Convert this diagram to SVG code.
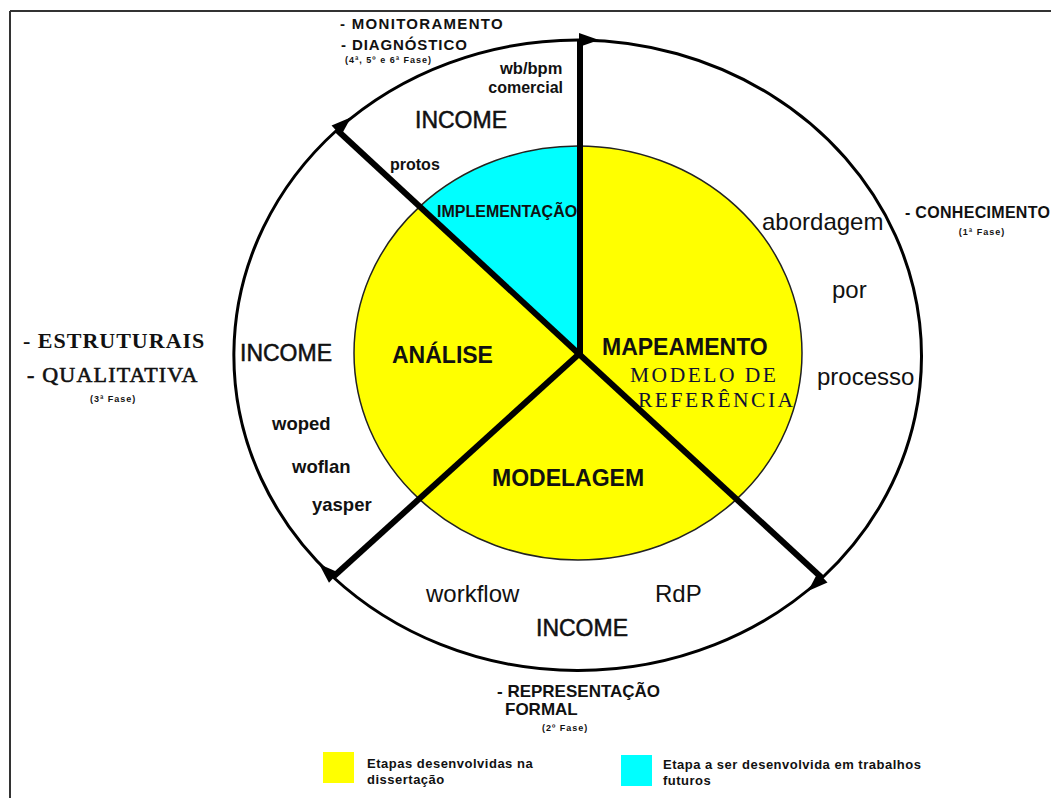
<svg xmlns="http://www.w3.org/2000/svg" width="1051" height="798" viewBox="0 0 1051 798">
  <style>
    .sans { font-family: "Liberation Sans", Arial, sans-serif; fill: #111; }
    .serif { font-family: "Liberation Serif", "Times New Roman", serif; fill: #111; }
    .b { font-weight: bold; }
    .big { font-size: 23px; stroke: #111; stroke-width: 0.5px; }
    .tool { font-size: 24px; }
    .stage { font-size: 23px; font-weight: bold; }
    .phase { font-size: 16px; font-weight: bold; }
    .small { font-size: 9px; font-weight: bold; letter-spacing: 1px; }
    .legend { font-size: 13px; font-weight: bold; letter-spacing: 0.5px; }
    .ref { font-size: 21.5px; letter-spacing: 2.5px; fill: #111133; }
    .spoke { stroke: #000; stroke-width: 6; stroke-linecap: butt; fill: none; }
    .ring { stroke: #000; stroke-width: 3; fill: none; marker-end: url(#arrow); }
  </style>
  <defs>
    <marker id="arrow" markerUnits="userSpaceOnUse" markerWidth="24" markerHeight="18" refX="1" refY="0" viewBox="0 -9 24 18" orient="auto" overflow="visible">
      <path d="M0,-7 L20,0 L0,7 Z" fill="#000"/>
    </marker>
  </defs>

  <rect x="0" y="0" width="1051" height="798" fill="#fff"/>

  <g id="frame" stroke="#333" stroke-width="2" fill="none">
    <line x1="10" y1="11" x2="1051" y2="11"/>
    <line x1="10" y1="11" x2="10" y2="798"/>
  </g>

  <g id="core">
    <ellipse cx="578" cy="353" rx="224" ry="207" fill="#ffff00"/>
    <path id="implementacao-sector" d="M579,354 L420,207 A224,207 0 0 1 580,146 Z" fill="#00ffff"/>
    <ellipse cx="578" cy="353" rx="224" ry="207" fill="none" stroke="#222" stroke-width="1.5"/>
  </g>

  <g id="connectors">
    <line class="spoke" x1="580" y1="357" x2="580" y2="40"/>
    <line class="spoke" x1="579" y1="354" x2="337" y2="130"/>
    <line class="spoke" x1="579" y1="354" x2="822" y2="578"/>
    <line class="spoke" x1="579" y1="354" x2="333" y2="577"/>
    <path class="ring" d="M333,577 A345,316 0 0 1 337,130"/>
    <path class="ring" d="M337,130 A345,316 0 0 1 580,40"/>
    <path class="ring" d="M580,40 A345,316 0 0 1 822,578"/>
    <path class="ring" d="M822,578 A345,316 0 0 1 333,577"/>
  </g>

  <g id="implementacao">
    <text class="sans b" x="437" y="217" font-size="16">IMPLEMENTAÇÃO</text>
  </g>
  <g id="mapeamento">
    <text class="sans stage" x="602" y="355">MAPEAMENTO</text>
    <text class="serif ref" x="630" y="382">MODELO DE</text>
    <text class="serif ref" x="638" y="407">REFERÊNCIA</text>
  </g>
  <g id="analise">
    <text class="sans stage" x="392" y="363">ANÁLISE</text>
  </g>
  <g id="modelagem">
    <text class="sans stage" x="492" y="486">MODELAGEM</text>
  </g>

  <g id="ring-top">
    <text class="sans big" x="415" y="128">INCOME</text>
    <text class="sans b" x="500" y="74" font-size="16.5">wb/bpm</text>
    <text class="sans b" x="563" y="93" font-size="16" text-anchor="end">comercial</text>
    <text class="sans b" x="390" y="170" font-size="16">protos</text>
  </g>
  <g id="ring-right">
    <text class="sans tool" x="762" y="230">abordagem</text>
    <text class="sans tool" x="832" y="298">por</text>
    <text class="sans tool" x="817" y="385">processo</text>
  </g>
  <g id="ring-bottom">
    <text class="sans tool" x="426" y="602" font-size="23">workflow</text>
    <text class="sans tool" x="655" y="602">RdP</text>
    <text class="sans big" x="536" y="636">INCOME</text>
  </g>
  <g id="ring-left">
    <text class="sans big" x="240" y="361">INCOME</text>
    <text class="sans b" x="272" y="430" font-size="18.5">woped</text>
    <text class="sans b" x="292" y="473" font-size="18.5">woflan</text>
    <text class="sans b" x="312" y="511" font-size="18.5">yasper</text>
  </g>

  <g id="phase-top">
    <text class="sans b" x="340" y="29" font-size="15" letter-spacing="1.3">- MONITORAMENTO</text>
    <text class="sans b" x="341" y="50" font-size="15" letter-spacing="0.9">- DIAGNÓSTICO</text>
    <text class="sans small" x="345" y="63">(4ª, 5º e 6ª Fase)</text>
  </g>
  <g id="phase-right">
    <text class="sans phase" x="905" y="218" letter-spacing="0.3">- CONHECIMENTO</text>
    <text class="sans small" x="982" y="235" text-anchor="middle">(1ª Fase)</text>
  </g>
  <g id="phase-left">
    <text class="serif b" x="23" y="348" font-size="22" letter-spacing="1">- ESTRUTURAIS</text>
    <text class="serif" x="27" y="382" font-size="22" letter-spacing="1.2" stroke="#111" stroke-width="0.6">- QUALITATIVA</text>
    <text class="sans small" x="90" y="402">(3ª Fase)</text>
  </g>
  <g id="phase-bottom">
    <text class="sans b" x="497" y="697" font-size="17">- REPRESENTAÇÃO</text>
    <text class="sans b" x="505" y="715" font-size="17">FORMAL</text>
    <text class="sans small" x="542" y="731">(2º Fase)</text>
  </g>

  <g id="legend">
    <rect x="323" y="752" width="31" height="31" fill="#ffff00"/>
    <text class="sans legend" x="367" y="768">Etapas desenvolvidas na</text>
    <text class="sans legend" x="367" y="784">dissertação</text>
    <rect x="621" y="755" width="31" height="31" fill="#00ffff"/>
    <text class="sans legend" x="663" y="769">Etapa a ser desenvolvida em trabalhos</text>
    <text class="sans legend" x="663" y="785">futuros</text>
  </g>
</svg>
